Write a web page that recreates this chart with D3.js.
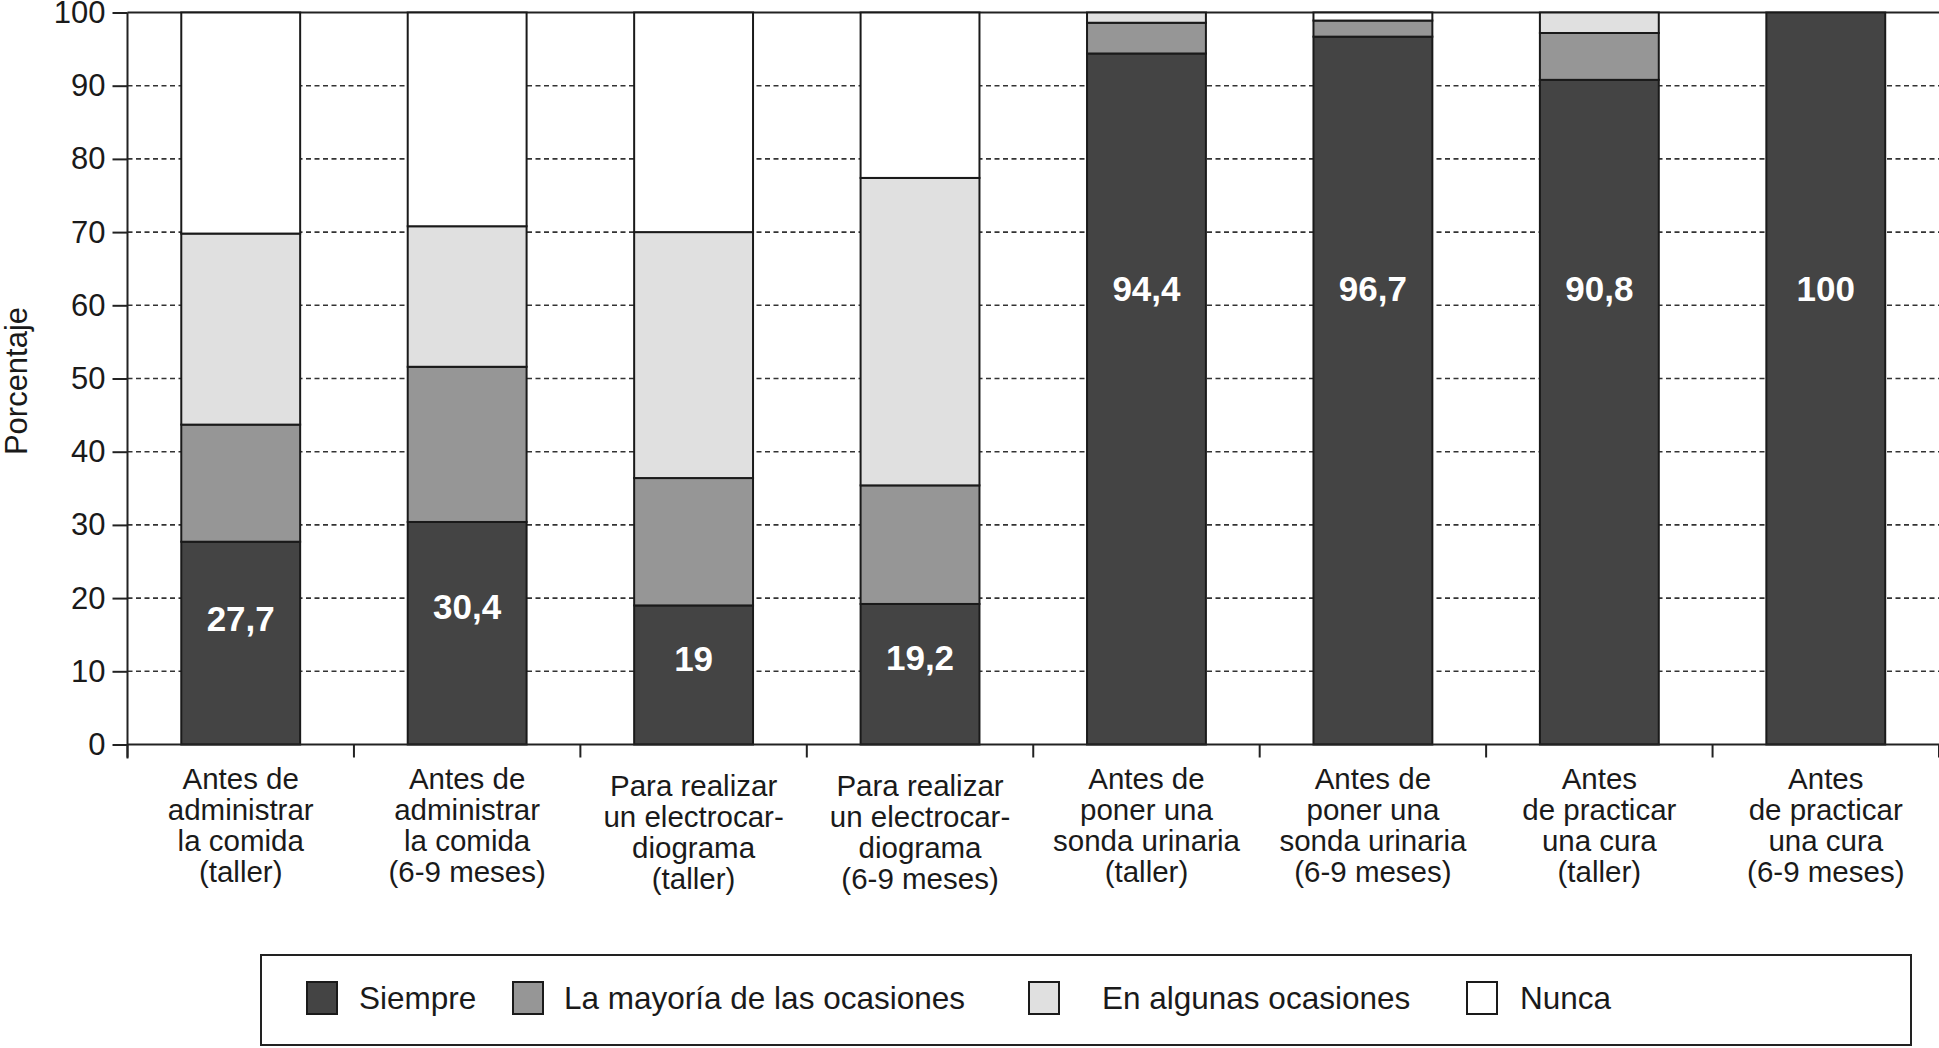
<!DOCTYPE html>
<html>
<head>
<meta charset="utf-8">
<script src="https://cdn.jsdelivr.net/npm/d3@7"></script>
<style>
  html, body { margin: 0; padding: 0; background: #fff; }
  svg { display: block; }
  text { font-family: "Liberation Sans", Arial, sans-serif; fill: #1a1a1a; }
</style>
</head>
<body>
<svg id="chart" width="1939" height="1048"></svg>
<script>
// ---- data ----
const categories = [
  ["Antes de", "administrar", "la comida", "(taller)"],
  ["Antes de", "administrar", "la comida", "(6-9 meses)"],
  ["Para realizar", "un electrocar-", "diograma", "(taller)"],
  ["Para realizar", "un electrocar-", "diograma", "(6-9 meses)"],
  ["Antes de", "poner una", "sonda urinaria", "(taller)"],
  ["Antes de", "poner una", "sonda urinaria", "(6-9 meses)"],
  ["Antes", "de practicar", "una cura", "(taller)"],
  ["Antes", "de practicar", "una cura", "(6-9 meses)"]
];
const seriesNames = ["Siempre", "La mayoría de las ocasiones", "En algunas ocasiones", "Nunca"];
const siempre  = [27.7, 30.4, 19.0, 19.2, 94.4, 96.7, 90.8, 100];
const mayoria  = [16.0, 21.2, 17.4, 16.2, 4.2, 2.2, 6.4, 0];
const algunas  = [26.1, 19.2, 33.6, 42.0, 1.4, 0, 2.8, 0];
const nunca    = [30.2, 29.2, 30.0, 22.6, 0, 1.1, 0, 0];
const yTicks   = [0, 10, 20, 30, 40, 50, 60, 70, 80, 90, 100];

// ---- layout / styles ----
const colors = ["#444444", "#969696", "#e0e0e0", "#ffffff"];
const plot = { left: 127.5, right: 1939, top: 12.5, bottom: 744.5 };
const legendBox = { x: 261, y: 955, w: 1650, h: 90 };
const legendSquareX = [307, 513, 1029, 1467];
const legendTextX = [359, 564, 1102, 1520];

const svg = d3.select("#chart");
const idx = categories.map((_, i) => i);

const x = d3.scaleBand().domain(idx).range([plot.left, plot.right])
  .paddingInner(0.475).paddingOuter(0.2375);
const y = d3.scaleLinear().domain([0, 100]).range([plot.bottom, plot.top]);

// table for stacking
const table = idx.map(i => ({ i, s0: siempre[i], s1: mayoria[i], s2: algunas[i], s3: nunca[i] }));
const stack = d3.stack().keys(["s0", "s1", "s2", "s3"]);
const layers = stack(table);

// gridlines (dashed) behind bars
svg.append("g").selectAll("line").data(yTicks.filter(t => t > 0 && t < 100)).join("line")
  .attr("x1", plot.left).attr("x2", plot.right)
  .attr("y1", d => y(d)).attr("y2", d => y(d))
  .attr("stroke", "#333").attr("stroke-width", 1.6).attr("stroke-dasharray", "5,3.5");

// top solid line at 100
svg.append("line").attr("x1", plot.left).attr("x2", plot.right)
  .attr("y1", y(100)).attr("y2", y(100))
  .attr("stroke", "#222").attr("stroke-width", 2);

// bars
const gBars = svg.append("g");
layers.forEach((layer, k) => {
  gBars.append("g").selectAll("rect").data(layer).join("rect")
    .attr("x", d => x(d.data.i))
    .attr("width", x.bandwidth())
    .attr("y", d => y(d[1]))
    .attr("height", d => y(d[0]) - y(d[1]))
    .attr("fill", colors[k])
    .attr("stroke", "#1a1a1a").attr("stroke-width", 2);
});

// value labels in Siempre segment
const labelPos = v => (v > 50 ? 62.3 : v * 0.62);
svg.append("g").selectAll("text").data(idx).join("text")
  .attr("x", i => x(i) + x.bandwidth() / 2)
  .attr("y", i => y(labelPos(siempre[i])))
  .attr("dy", "0.36em")
  .attr("text-anchor", "middle")
  .style("fill", "#ffffff").style("font-weight", "bold").style("font-size", "35px")
  .text(i => String(siempre[i]).replace(".", ","));

// y axis
const yAxis = d3.axisLeft(y).tickValues(yTicks).tickSize(15).tickPadding(7);
const gy = svg.append("g").attr("transform", `translate(${plot.left},0)`).call(yAxis);
gy.select(".domain").attr("stroke", "#222").attr("stroke-width", 2)
  .attr("d", `M0,${plot.top}V${plot.bottom + 14}`);
gy.selectAll(".tick line").attr("stroke", "#222").attr("stroke-width", 2);
gy.selectAll(".tick text").style("font-size", "31px").style("font-family", "'Liberation Sans', Arial, sans-serif").attr("fill", "#1a1a1a");

// x axis line and boundary ticks
svg.append("line").attr("x1", plot.left).attr("x2", plot.right)
  .attr("y1", plot.bottom).attr("y2", plot.bottom)
  .attr("stroke", "#222").attr("stroke-width", 2);
const boundaries = d3.range(categories.length + 1).map(k => plot.left + k * x.step());
svg.append("g").selectAll("line").data(boundaries).join("line")
  .attr("x1", d => d).attr("x2", d => d)
  .attr("y1", plot.bottom).attr("y2", plot.bottom + 13)
  .attr("stroke", "#222").attr("stroke-width", 2);

// x category labels
const gx = svg.append("g");
idx.forEach(i => {
  const t = gx.append("text")
    .attr("x", x(i) + x.bandwidth() / 2)
    .attr("y", categories[i][0].startsWith("Para") ? 796 : 789)
    .attr("text-anchor", "middle")
    .style("font-size", "29.5px");
  categories[i].forEach((line, j) => {
    t.append("tspan").attr("x", x(i) + x.bandwidth() / 2)
      .attr("dy", j === 0 ? 0 : 31).text(line);
  });
});

// y title
svg.append("text")
  .attr("transform", `translate(27,381) rotate(-90)`)
  .attr("text-anchor", "middle")
  .style("font-size", "31px")
  .text("Porcentaje");

// legend
svg.append("rect").attr("x", legendBox.x).attr("y", legendBox.y)
  .attr("width", legendBox.w).attr("height", legendBox.h)
  .attr("fill", "none").attr("stroke", "#222").attr("stroke-width", 2);
const lg = svg.append("g");
seriesNames.forEach((name, k) => {
  lg.append("rect").attr("x", legendSquareX[k]).attr("y", 982)
    .attr("width", 30).attr("height", 32)
    .attr("fill", colors[k]).attr("stroke", "#1a1a1a").attr("stroke-width", 2);
  lg.append("text").attr("x", legendTextX[k]).attr("y", 998)
    .attr("dy", "0.36em").style("font-size", "31.5px").text(name);
});
</script>
</body>
</html>
